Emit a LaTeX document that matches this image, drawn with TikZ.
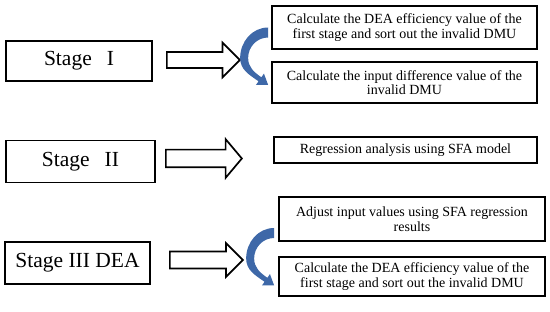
\documentclass[tikz,border=0pt]{standalone}
\usepackage{fontspec}
\setmainfont{Liberation Serif}
\usetikzlibrary{shapes.arrows,calc}
\definecolor{cCurve}{RGB}{62,104,168}

\tikzset{
  stagebox/.style={draw,line width=1.7pt,inner sep=0pt,font=\fontsize{21.5}{24}\selectfont},
  stepbox/.style={draw,line width=1.7pt,inner sep=0pt,align=center,font=\fontsize{14}{14.5}\selectfont},
  blockarrow/.style={draw,line width=1.7pt,fill=white,single arrow,anchor=tail,inner xsep=0pt},
}

% blue bent arrow, (0,0) is the top of its tail
\newcommand{\bentarrow}[1]{%
  \fill[cCurve,shift={#1}] (0,0) to[out=180,in=90] (-28,-30.5) to[out=270,in=145] (-9.6,-53.8)
    -- (-12.2,-57.5) -- (0,-57.5) -- (-4.2,-46.1) -- (-6.8,-49.8)
    to[out=145,in=270] (-20,-30.5) to[out=90,in=180] (0,-10) -- cycle;}

\begin{document}
\begin{tikzpicture}[x=1pt,y=1pt]
\useasboundingbox (0,0) rectangle (550,312);
% stage I
\node[stagebox,minimum width=146pt,minimum height=40pt] (s1) at (79,251) {Stage\hspace{15pt}I};
\node[blockarrow,minimum height=73pt,inner ysep=7.2pt,single arrow head extend=9.3pt,single arrow tip angle=90] (a1) at (166,252) {};
\node[stepbox,minimum width=265pt,minimum height=43pt] (b1) at (404.5,284.5) {Calculate the DEA efficiency value of the\\first stage and sort out the invalid DMU};
\node[stepbox,minimum width=265pt,minimum height=41pt] (b2) at (404.5,229.5) {Calculate the input difference value of the\\invalid DMU};
\coordinate (t1) at ($(b1.west)+(-3,0)$);
\bentarrow{(t1)}
% stage II
\node[stagebox,minimum width=149pt,minimum height=42pt] (s2) at (80.5,150.5) {Stage\hspace{15pt}II};
\node[blockarrow,minimum height=76pt,inner ysep=8pt,single arrow head extend=10.5pt,single arrow tip angle=100] (a2) at (165,153.5) {};
\node[stepbox,minimum width=263pt,minimum height=26pt] (b5) at (405.5,162) {Regression analysis using SFA model};
% stage III
\node[stagebox,minimum width=145pt,minimum height=42pt] (s3) at (77.5,49) {Stage III DEA};
\node[blockarrow,minimum height=73pt,inner ysep=7.6pt,single arrow head extend=8.4pt,single arrow tip angle=90] (a3) at (169,52) {};
\node[stepbox,minimum width=266pt,minimum height=44pt] (b3) at (412,93) {Adjust input values using SFA regression\\results};
\node[stepbox,minimum width=266pt,minimum height=39pt] (b4) at (412,35.5) {Calculate the DEA efficiency value of the\\first stage and sort out the invalid DMU};
\coordinate (t3) at ($(b3.west)+(-4,-9)$);
\bentarrow{(t3)}
\end{tikzpicture}
\end{document}
